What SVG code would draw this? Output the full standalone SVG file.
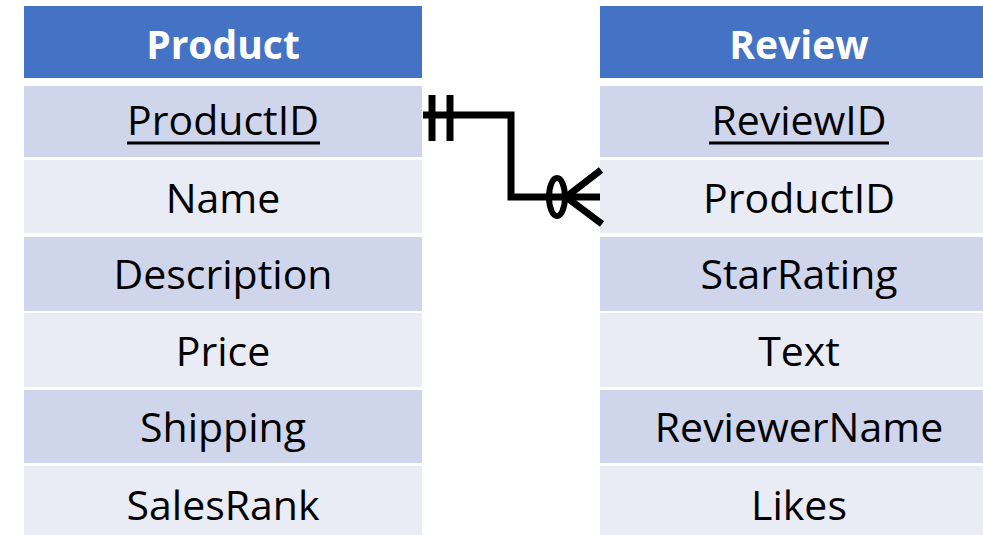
<svg xmlns="http://www.w3.org/2000/svg" width="983" height="535" viewBox="0 0 983 535">
<style>
.hdr{fill:#4472C4}
.dk{fill:#CFD5EA}
.lt{fill:#E9EBF5}
.ht{font-family:"Open Sans","Noto Sans",sans-serif;font-weight:bold;font-size:39px;fill:#fff;text-anchor:middle}
.ft{font-family:"Open Sans","Noto Sans",sans-serif;font-size:41px;fill:#000;text-anchor:middle}
.ul{stroke:#000;stroke-width:3}
.cn{fill:none;stroke:#000;stroke-width:7}
</style>
<rect width="983" height="535" fill="#fff"/>
<g id="product">
<rect class="hdr" x="24" y="6" width="398" height="72"/>
<text class="ht" x="223" y="59">Product</text>
<rect class="dk" x="24" y="86" width="398" height="71"/>
<rect class="lt" x="24" y="160" width="398" height="73"/>
<rect class="dk" x="24" y="237" width="398" height="74"/>
<rect class="lt" x="24" y="313" width="398" height="74"/>
<rect class="dk" x="24" y="390" width="398" height="73"/>
<rect class="lt" x="24" y="466" width="398" height="80"/>
<text class="ft" x="223" y="135">ProductID</text>
<line class="ul" x1="127" y1="143" x2="320" y2="143"/>
<text class="ft" x="223" y="213">Name</text>
<text class="ft" x="223" y="289">Description</text>
<text class="ft" x="223" y="366">Price</text>
<text class="ft" x="223" y="442">Shipping</text>
<text class="ft" x="223" y="520">SalesRank</text>
</g>
<g id="review">
<rect class="hdr" x="600" y="6" width="398" height="72"/>
<text class="ht" x="799" y="59">Review</text>
<rect class="dk" x="600" y="86" width="398" height="71"/>
<rect class="lt" x="600" y="160" width="398" height="73"/>
<rect class="dk" x="600" y="237" width="398" height="74"/>
<rect class="lt" x="600" y="313" width="398" height="74"/>
<rect class="dk" x="600" y="390" width="398" height="73"/>
<rect class="lt" x="600" y="466" width="398" height="80"/>
<text class="ft" x="799" y="135">ReviewID</text>
<line class="ul" x1="709" y1="143" x2="889" y2="143"/>
<text class="ft" x="799" y="213">ProductID</text>
<text class="ft" x="799" y="289">StarRating</text>
<text class="ft" x="799" y="366">Text</text>
<text class="ft" x="799" y="442">ReviewerName</text>
<text class="ft" x="799" y="520">Likes</text>
</g>
<g id="connectors">
<path class="cn" d="M423,115 H511 V197 H600"/>
<line class="cn" x1="432" y1="95" x2="432" y2="141"/>
<line class="cn" x1="450" y1="95" x2="450" y2="141"/>
<ellipse cx="557" cy="197" rx="8" ry="19" fill="none" stroke="#000" stroke-width="6"/>
<line class="cn" x1="566" y1="197" x2="601" y2="170"/>
<line class="cn" x1="566" y1="197" x2="602" y2="224"/>
</g>
</svg>
